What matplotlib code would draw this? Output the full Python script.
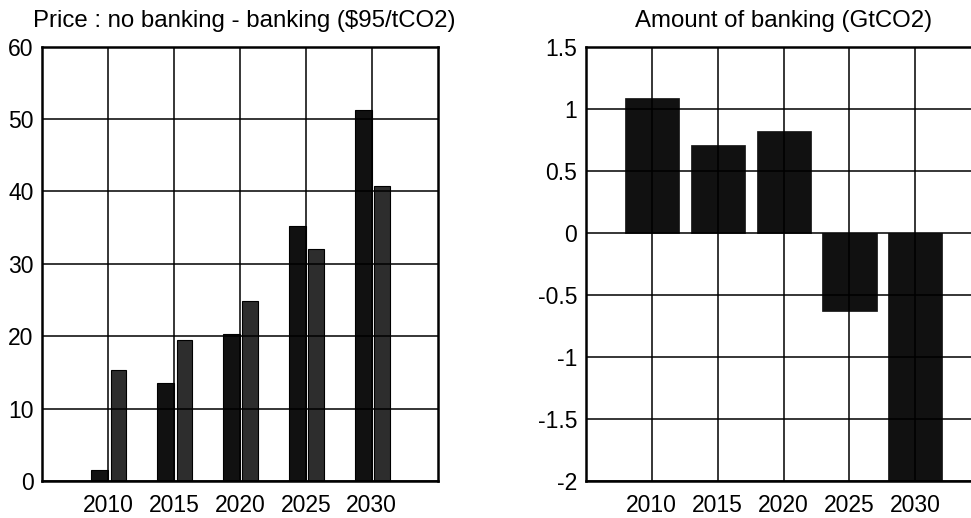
import matplotlib
matplotlib.use("Agg")
import matplotlib.pyplot as plt
import numpy as np

plt.rcParams['font.family'] = ['Liberation Sans', 'DejaVu Sans']

years = [2010, 2015, 2020, 2025, 2030]
price_no_banking = [1.5, 13.5, 20.3, 35.3, 51.2]
price_banking = [15.4, 19.5, 24.9, 32.0, 40.8]
banking_amount = [1.09, 0.71, 0.82, -0.63, -2.1]

left_title = "Price : no banking - banking ($95/tCO2)"
right_title = "Amount of banking (GtCO2)"
left_yticks = [0, 10, 20, 30, 40, 50, 60]
right_yticks = [-2, -1.5, -1, -0.5, 0, 0.5, 1, 1.5]
right_ylabels = ['-2', '-1.5', '-1', '-0.5', '0', '0.5', '1', '1.5']

fig = plt.figure(figsize=(9.71, 5.18), dpi=100)
ax1 = fig.add_axes([0.04325, 0.0714, 0.4075, 0.8384])
ax2 = fig.add_axes([0.6032, 0.0714, 0.4075, 0.8384])

x = np.array(years, dtype=float)
ax1.bar(x - 0.65, price_no_banking, width=1.3, color='#111111', edgecolor='#000000', linewidth=0.8, zorder=2)
ax1.bar(x + 0.8, price_banking, width=1.2, color='#2d2d2d', edgecolor='#000000', linewidth=0.8, zorder=2)
ax1.set_ylim(0, 60)
ax1.set_yticks(left_yticks)
ax1.set_title(left_title, fontsize=17.3, pad=14, x=0.51)

ax2.bar(x, banking_amount, width=4.1, color='#111111', edgecolor='#111111', linewidth=0.5, zorder=2)
ax2.set_ylim(-2, 1.5)
ax2.set_yticks(right_yticks)
ax2.set_yticklabels(right_ylabels)
ax2.set_title(right_title, fontsize=17.3, pad=14)

for ax in (ax1, ax2):
    ax.set_xlim(2005, 2035)
    ax.set_xticks(years)
    ax.set_xticklabels([str(y) for y in years])
    ax.grid(True, color='black', linewidth=1.1, zorder=3)
    ax.set_axisbelow(False)
    ax.tick_params(length=0, labelsize=16.5, colors='black')
    ax.tick_params(axis='x', pad=9)
    ax.tick_params(axis='y', pad=6)
    for s in ax.spines.values():
        s.set_linewidth(1.8)
        s.set_color('black')
        s.set_zorder(4)

fig.savefig('out.png', dpi=100)
